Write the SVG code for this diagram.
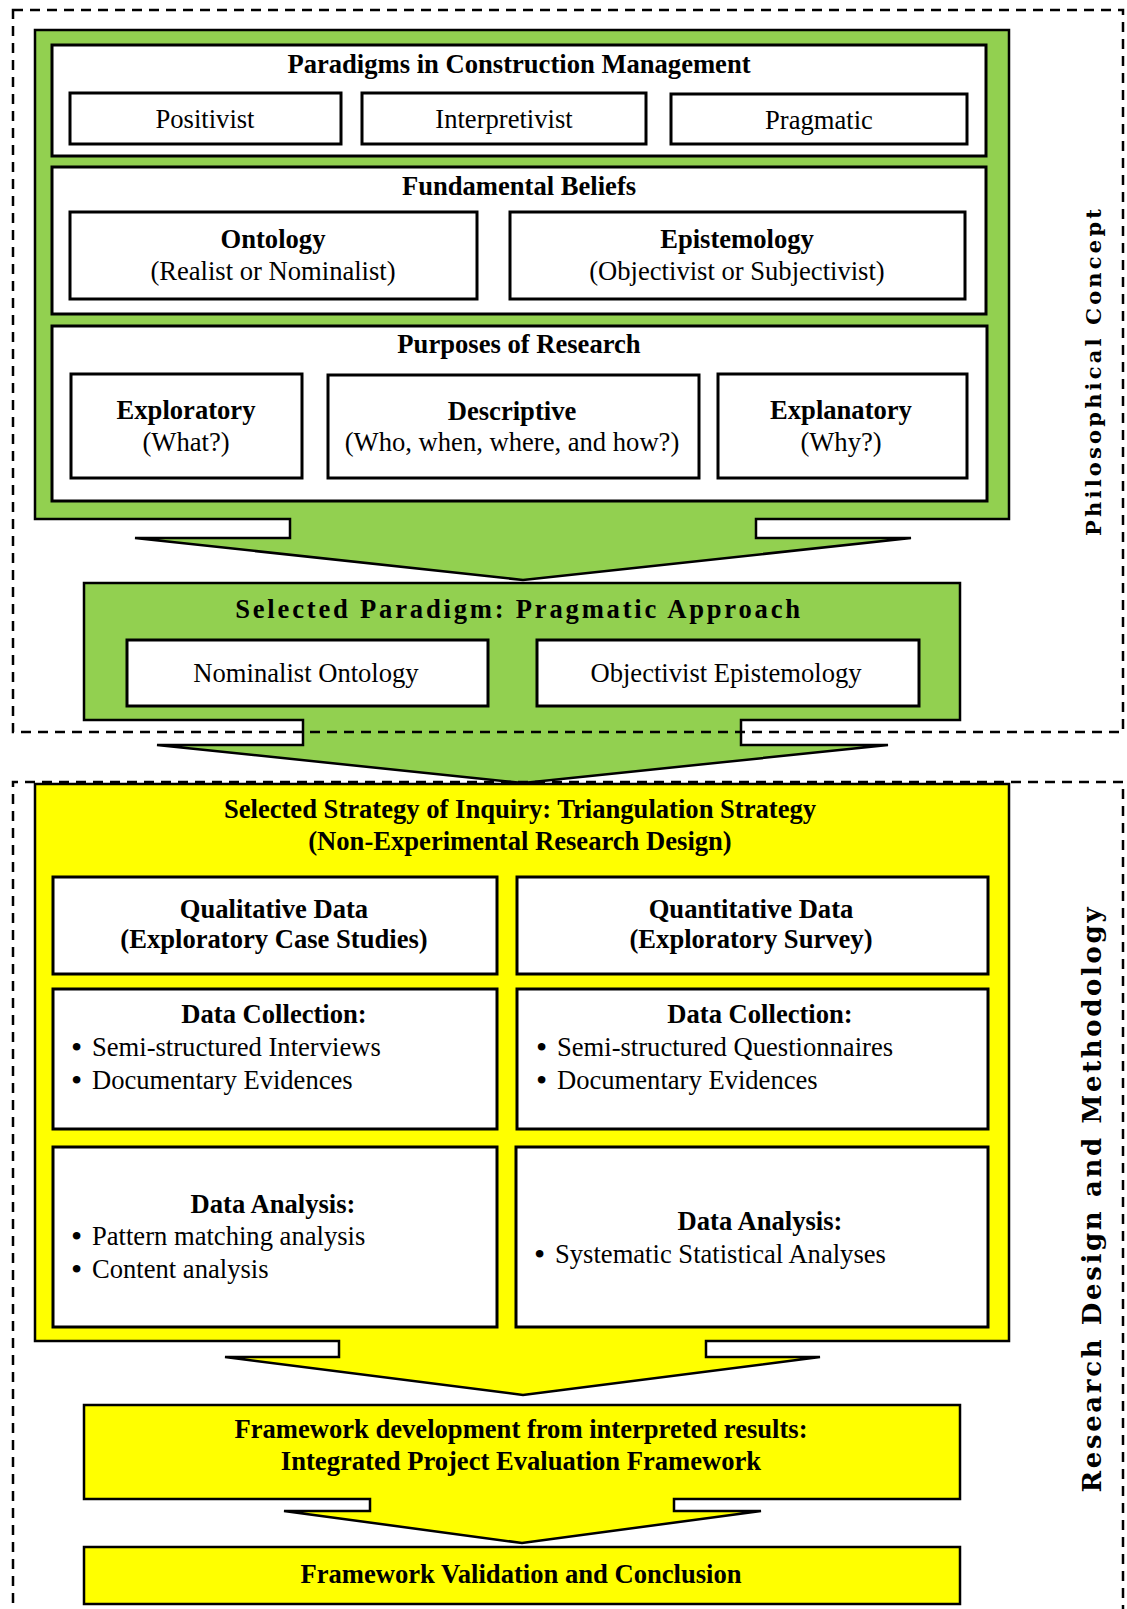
<svg xmlns="http://www.w3.org/2000/svg" width="1127" height="1609" viewBox="0 0 1127 1609">
  <style>
    text { font-family: "Liberation Serif", "Times New Roman", serif; font-size: 26.6px; fill: #000; }
    .b { font-weight: bold; }
    .c { text-anchor: middle; }
    .dot { font-size: 32px; }
    .green { fill: #92D050; stroke: #000; stroke-width: 2.5; stroke-linejoin: miter; }
    .yellow { fill: #FFFF00; stroke: #000; stroke-width: 2.5; stroke-linejoin: miter; }
    .panel { fill: #fff; stroke: #000; stroke-width: 3; }
    .box { fill: #fff; stroke: #000; stroke-width: 3; }
    .dash { fill: none; stroke: #000; stroke-width: 2.5; stroke-dasharray: 10 7; }
    .side { font-family: "DejaVu Serif", "Liberation Serif", serif; font-weight: bold; text-anchor: middle; }
  </style>

  <!-- Philosophical concept: green block with downward arrow -->
  <g id="philosophy-block">
    <path class="green" d="M35,30 H1009 V519 H756 V538 H911 L523,580 L135,538 H290 V519 H35 Z"/>
  </g>

  <g id="paradigms">
    <rect class="panel" x="52" y="45" width="934" height="111"/>
    <text class="b c" x="519" y="73">Paradigms in Construction Management</text>
    <g id="positivist">
      <rect class="box" x="70" y="93" width="271" height="51"/>
      <text class="c" x="205" y="128">Positivist</text>
    </g>
    <g id="interpretivist">
      <rect class="box" x="362" y="93" width="284" height="51"/>
      <text class="c" x="504" y="128">Interpretivist</text>
    </g>
    <g id="pragmatic">
      <rect class="box" x="671" y="94" width="296" height="50"/>
      <text class="c" x="819" y="129">Pragmatic</text>
    </g>
  </g>

  <g id="beliefs">
    <rect class="panel" x="52" y="167" width="934" height="147"/>
    <text class="b c" x="519" y="195">Fundamental Beliefs</text>
    <g id="ontology">
      <rect class="box" x="70" y="212" width="407" height="87"/>
      <text class="b c" x="273" y="248">Ontology</text>
      <text class="c" x="273" y="280">(Realist or Nominalist)</text>
    </g>
    <g id="epistemology">
      <rect class="box" x="510" y="212" width="455" height="87"/>
      <text class="b c" x="737" y="248">Epistemology</text>
      <text class="c" x="737" y="280">(Objectivist or Subjectivist)</text>
    </g>
  </g>

  <g id="purposes">
    <rect class="panel" x="52" y="326" width="935" height="175"/>
    <text class="b c" x="519" y="353">Purposes of Research</text>
    <g id="exploratory">
      <rect class="box" x="71" y="374" width="231" height="104"/>
      <text class="b c" x="186" y="419">Exploratory</text>
      <text class="c" x="186" y="451">(What?)</text>
    </g>
    <g id="descriptive">
      <rect class="box" x="328" y="375" width="371" height="103"/>
      <text class="b c" x="512" y="420">Descriptive</text>
      <text class="c" x="512" y="451">(Who, when, where, and how?)</text>
    </g>
    <g id="explanatory">
      <rect class="box" x="718" y="374" width="249" height="104"/>
      <text class="b c" x="841" y="419">Explanatory</text>
      <text class="c" x="841" y="451">(Why?)</text>
    </g>
  </g>

  <!-- Selected paradigm with arrow into the strategy block -->
  <g id="selected-paradigm">
    <path class="green" d="M84,583 H960 V720 H741 V745 H888 L523,783 L157,745 H303 V720 H84 Z"/>
    <text class="b c" x="519" y="618" style="letter-spacing:2.8px">Selected Paradigm: Pragmatic Approach</text>
    <g id="nominalist">
      <rect class="box" x="127" y="640" width="361" height="66"/>
      <text class="c" x="306" y="682">Nominalist Ontology</text>
    </g>
    <g id="objectivist">
      <rect class="box" x="537" y="640" width="382" height="66"/>
      <text class="c" x="726" y="682">Objectivist Epistemology</text>
    </g>
  </g>

  <!-- Research design block -->
  <g id="strategy">
    <path class="yellow" d="M35,784 H1009 V1341 H706 V1357 H820 L523,1395 L225,1357 H339 V1341 H35 Z"/>
    <text class="b c" x="520" y="818">Selected Strategy of Inquiry: Triangulation Strategy</text>
    <text class="b c" x="520" y="850">(Non-Experimental Research Design)</text>
  </g>

  <g id="qualitative">
    <rect class="box" x="53" y="877" width="444" height="97"/>
    <text class="b c" x="274" y="918">Qualitative Data</text>
    <text class="b c" x="274" y="948">(Exploratory Case Studies)</text>
  </g>
  <g id="quantitative">
    <rect class="box" x="517" y="877" width="471" height="97"/>
    <text class="b c" x="751" y="918">Quantitative Data</text>
    <text class="b c" x="751" y="948">(Exploratory Survey)</text>
  </g>

  <g id="qual-collection">
    <rect class="box" x="53" y="989" width="444" height="140"/>
    <text class="b c" x="274" y="1023">Data Collection:</text>
    <text y="1056"><tspan class="dot" x="71" dy="2">•</tspan><tspan x="92" dy="-2">Semi-structured Interviews</tspan></text>
    <text y="1089"><tspan class="dot" x="71" dy="2">•</tspan><tspan x="92" dy="-2">Documentary Evidences</tspan></text>
  </g>
  <g id="quant-collection">
    <rect class="box" x="517" y="989" width="471" height="140"/>
    <text class="b c" x="760" y="1023">Data Collection:</text>
    <text y="1056"><tspan class="dot" x="536" dy="2">•</tspan><tspan x="557" dy="-2">Semi-structured Questionnaires</tspan></text>
    <text y="1089"><tspan class="dot" x="536" dy="2">•</tspan><tspan x="557" dy="-2">Documentary Evidences</tspan></text>
  </g>

  <g id="qual-analysis">
    <rect class="box" x="53" y="1147" width="444" height="180"/>
    <text class="b c" x="273" y="1213">Data Analysis:</text>
    <text y="1245"><tspan class="dot" x="71" dy="2">•</tspan><tspan x="92" dy="-2">Pattern matching analysis</tspan></text>
    <text y="1278"><tspan class="dot" x="71" dy="2">•</tspan><tspan x="92" dy="-2">Content analysis</tspan></text>
  </g>
  <g id="quant-analysis">
    <rect class="box" x="516" y="1147" width="472" height="180"/>
    <text class="b c" x="760" y="1230">Data Analysis:</text>
    <text y="1263"><tspan class="dot" x="534" dy="2">•</tspan><tspan x="555" dy="-2">Systematic Statistical Analyses</tspan></text>
  </g>

  <g id="framework-development">
    <path class="yellow" d="M84,1405 H960 V1499 H674 V1511 H761 L522,1543 L284,1511 H370 V1499 H84 Z"/>
    <text class="b c" x="521" y="1438">Framework development from interpreted results:</text>
    <text class="b c" x="521" y="1470">Integrated Project Evaluation Framework</text>
  </g>

  <g id="framework-validation">
    <rect class="yellow" x="84" y="1547" width="876" height="57"/>
    <text class="b c" x="521" y="1583">Framework Validation and Conclusion</text>
  </g>

  <!-- Dashed phase frames and their labels -->
  <g id="connectors">
    <rect class="dash" x="13" y="10" width="1110" height="722"/>
    <path class="dash" d="M13,1620 V782 H1123 V1620"/>
  </g>

  <g id="phase-labels">
    <text class="side" transform="translate(1101,372.5) rotate(-90)" style="font-size:21px" textLength="327" lengthAdjust="spacing">Philosophical Concept</text>
    <text class="side" transform="translate(1101,1200) rotate(-90)" style="font-size:26px" textLength="585" lengthAdjust="spacing">Research Design and Methodology</text>
  </g>
</svg>
